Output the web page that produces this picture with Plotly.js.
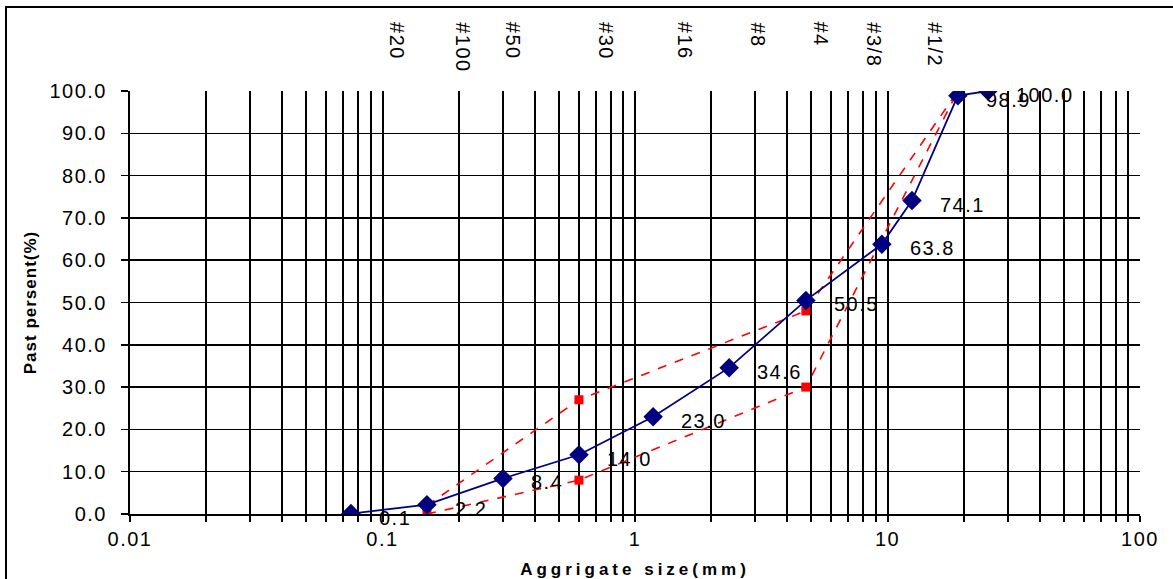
<!DOCTYPE html>
<html>
<head>
<meta charset="utf-8">
<script src="https://cdn.plot.ly/plotly-3.0.1.min.js"></script>
<style>
  html, body { margin:0; padding:0; background:#fff; overflow:hidden; }
  #frame { position:absolute; left:5px; top:6px; width:1200px; height:700px;
           border-top:2px solid #000; border-left:2px solid #000; pointer-events:none; z-index:5; }
  #chart { width:1173px; height:579px; }
  text { letter-spacing: 1.5px; }
  text.xtitle { letter-spacing: 4px; }
  text.ytitle { letter-spacing: 1px; }
</style>
</head>
<body>
<div id="frame"></div>
<div id="chart"></div>
<script>
// Sieve sizes (mm) and percent passing of the sample
const sampleSize = [0.075, 0.15, 0.3, 0.6, 1.18, 2.36, 4.75, 9.5, 12.5, 19, 25];
const samplePass = [0.1, 2.2, 8.4, 14.0, 23.0, 34.6, 50.5, 63.8, 74.1, 98.9, 100.0];
// Specification envelope (red dashed)
const upperSize = [0.15, 0.6, 4.75, 19];
const upperPass = [2, 27, 48, 100];
const lowerSize = [0.15, 0.6, 4.75, 19];
const lowerPass = [0, 8, 30, 100];
// Sieve labels along the top
const sieveLabels = ["#20", "#100", "#50", "#30", "#16", "#8", "#4", "#3/8", "#1/2"];
const sieveLabelPos = [0.114, 0.207, 0.329, 0.767, 1.58, 3.07, 5.45, 8.77, 15.3];

const font = "Liberation Sans, Arial, sans-serif";

const traces = [
  { x: upperSize, y: upperPass, type: "scatter", mode: "lines+markers",
    line: {color: "#ff0000", width: 1.6, dash: "dash"},
    marker: {symbol: "square", size: 9, color: "#ff0000"}, hoverinfo: "skip" },
  { x: lowerSize, y: lowerPass, type: "scatter", mode: "lines+markers",
    line: {color: "#ff0000", width: 1.6, dash: "dash"},
    marker: {symbol: "square", size: 9, color: "#ff0000"}, hoverinfo: "skip" },
  { x: sampleSize, y: samplePass, type: "scatter", mode: "lines+markers",
    line: {color: "#000080", width: 1.8},
    marker: {symbol: "diamond", size: 15, color: "#000080"}, hoverinfo: "skip" }
];

const annotations = [];
sampleSize.forEach((s, i) => {
  annotations.push({ x: Math.log10(s), y: samplePass[i], xref: "x", yref: "y",
    text: samplePass[i].toFixed(1), showarrow: false, xanchor: "left", yanchor: "middle",
    xshift: 26, yshift: -4, font: {family: font, size: 20, color: "#000"} });
});
sieveLabels.forEach((t, i) => {
  annotations.push({ x: Math.log10(sieveLabelPos[i]), y: 1.168, xref: "x", yref: "paper",
    text: t, showarrow: false, textangle: 90, xanchor: "center", yanchor: "top",
    font: {family: font, size: 20, color: "#000"} });
});

const layout = {
  width: 1173, height: 579,
  margin: {l: 130, r: 33, t: 91, b: 65, pad: 0},
  paper_bgcolor: "#fff", plot_bgcolor: "#fff",
  showlegend: false,
  font: {family: font, color: "#000"},
  xaxis: {
    type: "log", range: [-2, 2], dtick: 1,
    showgrid: true, gridcolor: "#000", gridwidth: 2,
    showline: true, linecolor: "#000", linewidth: 2,
    ticks: "outside", ticklen: 6, tickcolor: "#000", tickwidth: 2,
    tickfont: {family: font, size: 20, color: "#000"},
    minor: {dtick: "D1", showgrid: true, gridcolor: "#000", gridwidth: 2,
            ticks: "outside", ticklen: 6, tickcolor: "#000", tickwidth: 2},
    zeroline: false,
    title: {text: "Aggrigate size(mm)", standoff: 14,
            font: {family: font, size: 17, color: "#000", weight: "bold"}}
  },
  yaxis: {
    range: [0, 100], dtick: 10, tickformat: ".1f",
    showgrid: true, gridcolor: "#000", gridwidth: 1.5,
    showline: true, linecolor: "#000", linewidth: 2,
    ticks: "outside", ticklen: 7, tickcolor: "#000", tickwidth: 1.5,
    ticklabelstandoff: 10,
    tickfont: {family: font, size: 20, color: "#000"},
    zeroline: false,
    title: {text: "Past persent(%)", standoff: 8,
            font: {family: font, size: 17, color: "#000", weight: "bold"}}
  },
  annotations: annotations
};

Plotly.newPlot("chart", traces, layout, {displayModeBar: false, staticPlot: true});
</script>
</body>
</html>
